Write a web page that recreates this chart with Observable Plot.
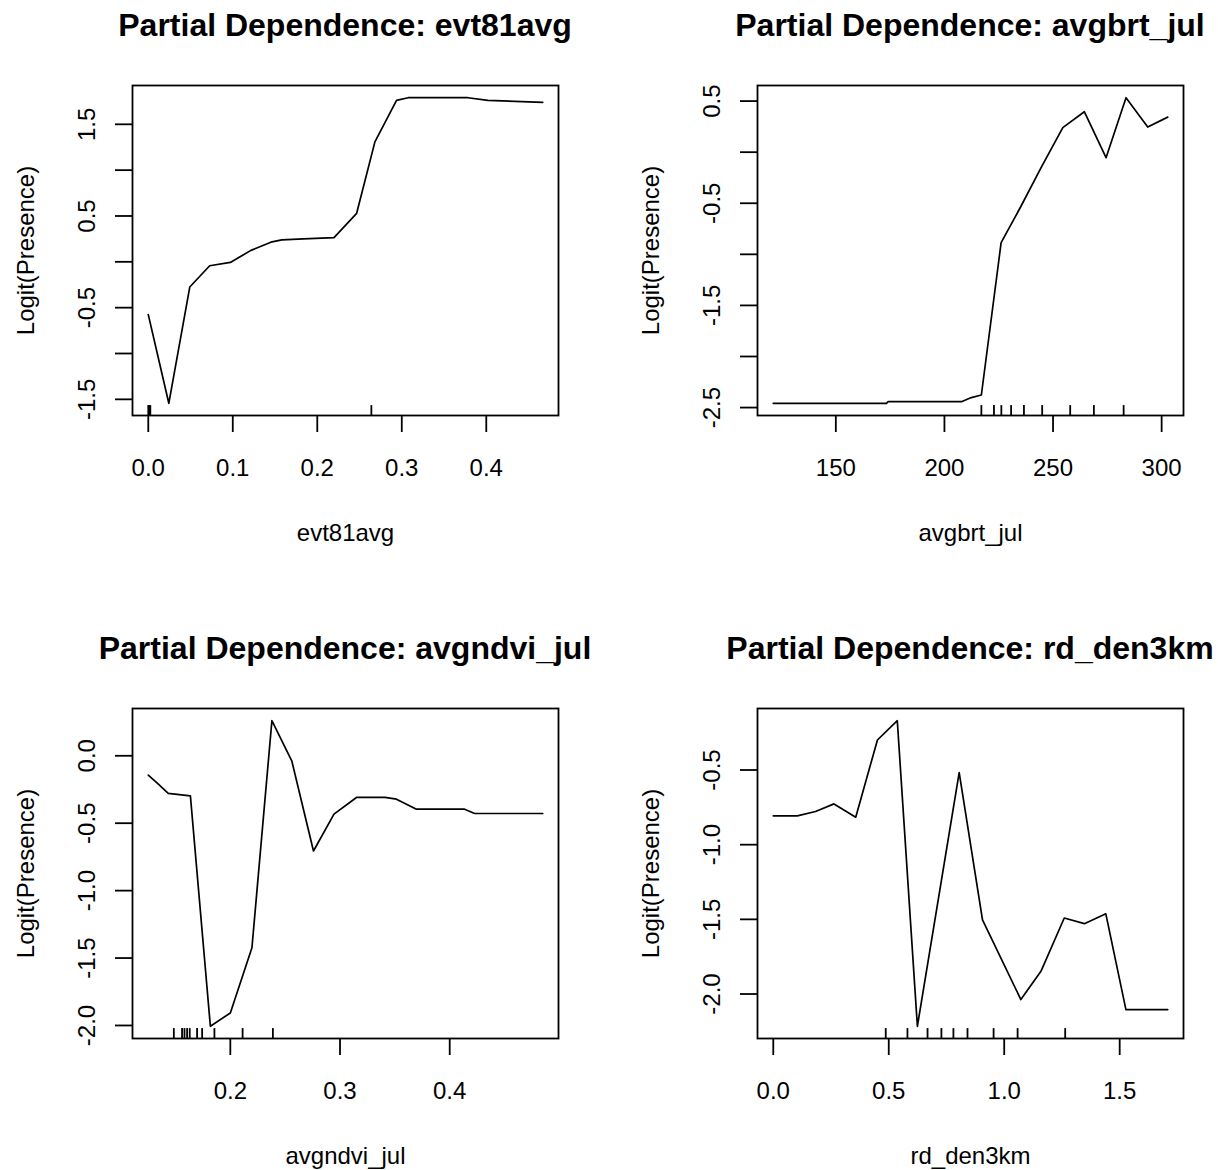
<!DOCTYPE html>
<html><head><meta charset="utf-8">
<script src="https://cdn.jsdelivr.net/npm/d3@7"></script>
<script src="https://cdn.jsdelivr.net/npm/@observablehq/plot@0.6"></script>
<style>
body{margin:0;background:#fff;overflow:hidden;width:1218px;height:1170px;font-family:"Liberation Sans",Arial,sans-serif;position:relative;}
.panel{position:absolute;width:593px;height:545px;}
.title{position:absolute;left:0;top:1px;width:690px;height:48px;line-height:48px;text-align:center;font-weight:bold;font-size:32px;white-space:nowrap;color:#000;}
.panel svg{position:absolute;left:0;top:48px;}
</style></head><body>
<script>
// ---- data ----
const titles = ["Partial Dependence: evt81avg", "Partial Dependence: avgbrt_jul", "Partial Dependence: avgndvi_jul", "Partial Dependence: rd_den3km"];
const xLabels = ["evt81avg", "avgbrt_jul", "avgndvi_jul", "rd_den3km"];
const yLabel = "Logit(Presence)";

const evtX = [0, 0.0243, 0.0491, 0.0727, 0.0971, 0.1215, 0.1451, 0.158, 0.1836, 0.2198, 0.2466, 0.2682, 0.2938, 0.3075, 0.3783, 0.4019, 0.4668];
const evtY = [-0.576, -1.543, -0.275, -0.043, -0.007, 0.125, 0.214, 0.239, 0.25, 0.264, 0.529, 1.308, 1.761, 1.79, 1.79, 1.761, 1.739];
const evtRug = [0, 0.0012, 0.0024, 0.264];
const evtXTicks = [0, 0.1, 0.2, 0.3, 0.4];
const evtYTicks = [-1.5, -1.0, -0.5, 0, 0.5, 1.0, 1.5];
const evtYLabeled = [-1.5, -0.5, 0.5, 1.5];

const brtX = [121.2, 173.3, 174.1, 208.1, 212.4, 217.0, 226.1, 235.3, 244.5, 254.5, 264.4, 274.4, 283.6, 293.6, 302.8];
const brtY = [-2.458, -2.458, -2.441, -2.441, -2.402, -2.377, -0.886, -0.527, -0.152, 0.240, 0.396, -0.054, 0.533, 0.246, 0.343];
const brtRug = [217.0, 222.8, 226.2, 230.7, 236.6, 245.0, 257.9, 268.8, 282.5];
const brtXTicks = [150, 200, 250, 300];
const brtYTicks = [-2.5, -2.0, -1.5, -1.0, -0.5, 0, 0.5];
const brtYLabeled = [-2.5, -1.5, -0.5, 0.5];

const ndviX = [0.1252, 0.1334, 0.1434, 0.1636, 0.1818, 0.2, 0.2197, 0.2379, 0.256, 0.2758, 0.2945, 0.315, 0.341, 0.3515, 0.3697, 0.4136, 0.4227, 0.4848];
const ndviY = [-0.143, -0.203, -0.279, -0.297, -2.006, -1.907, -1.424, 0.26, -0.037, -0.706, -0.433, -0.309, -0.309, -0.322, -0.396, -0.396, -0.428, -0.428];
const ndviRug = [0.1485, 0.156, 0.1582, 0.1606, 0.163, 0.1697, 0.1743, 0.1855, 0.2112, 0.2388];
const ndviXTicks = [0.2, 0.3, 0.4];
const ndviYTicks = [-2.0, -1.5, -1.0, -0.5, 0];
const ndviYLabeled = [-2.0, -1.5, -1.0, -0.5, 0];

const rdX = [0, 0.104, 0.183, 0.263, 0.357, 0.451, 0.537, 0.624, 0.805, 0.906, 1.072, 1.159, 1.26, 1.347, 1.44, 1.527, 1.708];
const rdY = [-0.807, -0.807, -0.778, -0.727, -0.816, -0.299, -0.170, -2.216, -0.518, -1.503, -2.037, -1.848, -1.491, -1.529, -1.463, -2.104, -2.104];
const rdRug = [0.487, 0.581, 0.668, 0.728, 0.78, 0.841, 0.954, 1.058, 1.264];
const rdXTicks = [0, 0.5, 1.0, 1.5];
const rdYTicks = [-2.0, -1.5, -1.0, -0.5];
const rdYLabeled = [-2.0, -1.5, -1.0, -0.5];

// ---- drawing ----
const FONT = "'Liberation Sans', Arial, sans-serif";
const FS = 24;
const SW = 1.8;

function pad(a) {
  const [lo, hi] = d3.extent(a);
  const r = hi - lo;
  return [lo - 0.04 * r, hi + 0.04 * r];
}

function makePanel(xs, ys, rug, xTicks, xFmt, yTicks, yLabeled, xLabel) {
  const xd = pad(xs), yd = pad(ys);
  const pts = xs.map((v, i) => ({x: v, y: ys[i]}));
  const labeled = new Set(yLabeled);
  const rugLo = yd[0], rugHi = yd[0] + 0.03 * (yd[1] - yd[0]);
  return Plot.plot({
    width: 593, height: 497,
    marginLeft: 132, marginRight: 35, marginTop: 37, marginBottom: 130,
    x: {domain: xd},
    y: {domain: yd},
    style: {fontFamily: FONT, fontSize: FS + "px", color: "#000", background: "#fff", overflow: "visible"},
    marks: [
      Plot.axisX({ticks: xTicks, tickSize: 17, tickPadding: 26, tickFormat: xFmt, fontSize: FS, strokeWidth: SW, label: null}),
      Plot.axisY({ticks: yTicks, tickSize: 17, tickPadding: 21, tickRotate: -90, textAnchor: "middle", lineAnchor: "bottom",
        tickFormat: d => labeled.has(d) ? d.toFixed(1) : "", fontSize: FS, strokeWidth: SW, label: null}),
      Plot.ruleX(rug, {x: d => d, y1: rugLo, y2: rugHi, stroke: "#000", strokeWidth: SW}),
      Plot.line(pts, {x: "x", y: "y", stroke: "#000", strokeWidth: 1.7}),
      Plot.frame({stroke: "#000", strokeWidth: SW}),
      Plot.text([xLabel], {frameAnchor: "bottom", dy: 118, lineAnchor: "middle", textAnchor: "middle", fontSize: FS, text: d => d, fill: "#000"}),
      Plot.text([yLabel], {frameAnchor: "left", dx: -106, rotate: -90, lineAnchor: "middle", textAnchor: "middle", fontSize: FS, text: d => d, fill: "#000"})
    ]
  });
}

const f1 = d => d.toFixed(1);
const f0 = d => String(d);
const specs = [
  [evtX, evtY, evtRug, evtXTicks, f1, evtYTicks, evtYLabeled],
  [brtX, brtY, brtRug, brtXTicks, f0, brtYTicks, brtYLabeled],
  [ndviX, ndviY, ndviRug, ndviXTicks, f1, ndviYTicks, ndviYLabeled],
  [rdX, rdY, rdRug, rdXTicks, f1, rdYTicks, rdYLabeled]
];
const pos = [[0, 0], [625, 0], [0, 623], [625, 623]];

specs.forEach((s, i) => {
  const div = document.createElement("div");
  div.className = "panel";
  div.style.left = pos[i][0] + "px";
  div.style.top = pos[i][1] + "px";
  const t = document.createElement("div");
  t.className = "title";
  t.textContent = titles[i];
  div.appendChild(t);
  div.appendChild(makePanel(s[0], s[1], s[2], s[3], s[4], s[5], s[6], xLabels[i]));
  document.body.appendChild(div);
});
</script>
</body></html>
